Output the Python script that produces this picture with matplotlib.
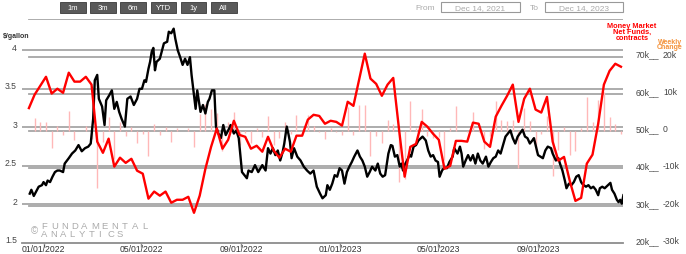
import numpy as np
import pandas as pd
import matplotlib
matplotlib.use("Agg")
import matplotlib.pyplot as plt
import matplotlib.dates as mdates
import matplotlib.transforms as mtransforms
from matplotlib.patches import Rectangle

plt.rcParams['font.family'] = ['Liberation Sans', 'DejaVu Sans']

#__ Data ______________________________________
# gasoline price ($/gallon), days counted from 2022-01-01
gas_day = [-17, -15, -12, -8, -6, -2, 0, 3, 5, 8,
           11, 14, 17, 20, 24, 26, 31, 35, 39, 43,
           47, 51, 55, 58, 61, 63, 66, 68, 72, 75,
           77, 81, 84, 87, 90, 93, 96, 100, 103, 107,
           111, 115, 118, 121, 124, 126, 129, 131, 133, 135,
           137, 139, 143, 148, 152, 154, 157, 160, 162, 165,
           168, 171, 174, 177, 180, 182, 184, 187, 189, 193,
           196, 199, 202, 204, 207, 210, 212, 215, 218, 221,
           224, 228, 230, 234, 237, 240, 244, 247, 250, 252,
           256, 260, 264, 269, 273, 276, 279, 282, 285, 288,
           291, 294, 296, 299, 301, 303, 305, 308, 312, 316,
           320, 324, 328, 332, 336, 340, 343, 347, 349, 352,
           355, 358, 361, 364, 367, 370, 373, 376, 379, 382,
           386, 389, 392, 395, 398, 401, 404, 408, 411, 414,
           417, 420, 424, 427, 429, 432, 435, 438, 440, 442,
           444, 447, 450, 452, 455, 458, 461, 464, 466, 470,
           473, 476, 479, 482, 485, 487, 490, 493, 496, 499,
           503, 505, 509, 512, 514, 516, 519, 522, 525, 528,
           531, 534, 537, 540, 544, 547, 550, 553, 556, 559,
           562, 565, 568, 571, 574, 577, 580, 583, 587, 589,
           592, 595, 598, 601, 603, 605, 608, 611, 614, 617,
           620, 624, 626, 630, 633, 635, 638, 641, 643, 646,
           649, 652, 655, 658, 661, 663, 667, 670, 673, 676,
           679, 682, 684, 687, 690, 693, 697, 699, 702, 705,
           707, 709, 711, 713]
gas_price = [2.14, 2.19, 2.11, 2.19, 2.23, 2.25, 2.29, 2.25, 2.31, 2.29,
             2.36, 2.42, 2.44, 2.44, 2.42, 2.53, 2.60, 2.66, 2.70, 2.77,
             2.69, 2.73, 2.75, 2.79, 3.11, 3.61, 3.68, 3.37, 3.27, 3.03,
             3.35, 3.42, 3.48, 3.24, 3.33, 3.20, 3.11, 3.01, 3.37, 3.40,
             3.29, 3.37, 3.50, 3.50, 3.61, 3.59, 3.76, 3.85, 3.98, 4.03,
             3.74, 3.85, 3.89, 4.09, 4.11, 4.24, 4.22, 4.28, 4.15, 4.00,
             3.91, 3.81, 3.89, 3.81, 3.91, 3.68, 3.50, 3.24, 3.48, 3.20,
             3.29, 3.18, 3.33, 3.37, 3.48, 3.48, 3.01, 2.92, 2.86, 3.03,
             2.90, 2.98, 3.03, 2.92, 2.96, 2.86, 2.42, 2.38, 2.34, 2.44,
             2.42, 2.51, 2.42, 2.51, 2.44, 2.73, 2.66, 2.73, 2.64, 2.70,
             2.57, 2.68, 2.79, 3.01, 2.92, 2.81, 2.60, 2.73, 2.62, 2.57,
             2.49, 2.44, 2.40, 2.44, 2.23, 2.14, 2.08, 2.12, 2.25, 2.19,
             2.27, 2.38, 2.36, 2.47, 2.44, 2.27, 2.42, 2.49, 2.55, 2.62,
             2.70, 2.62, 2.57, 2.49, 2.36, 2.42, 2.49, 2.44, 2.53, 2.40,
             2.36, 2.38, 2.66, 2.77, 2.76, 2.62, 2.64, 2.49, 2.53, 2.44,
             2.51, 2.57, 2.64, 2.62, 2.75, 2.77, 2.83, 2.86, 2.88, 2.83,
             2.70, 2.62, 2.64, 2.57, 2.55, 2.36, 2.44, 2.48, 2.47, 2.55,
             2.62, 2.73, 2.66, 2.75, 2.66, 2.49, 2.57, 2.64, 2.57, 2.64,
             2.53, 2.66, 2.57, 2.53, 2.62, 2.49, 2.55, 2.60, 2.62, 2.70,
             2.66, 2.77, 2.88, 2.92, 2.96, 2.86, 2.79, 2.88, 2.94, 2.97,
             2.88, 2.86, 2.79, 2.83, 2.86, 2.77, 2.64, 2.62, 2.60, 2.70,
             2.75, 2.73, 2.66, 2.57, 2.60, 2.53, 2.44, 2.31, 2.21, 2.27,
             2.25, 2.29, 2.36, 2.38, 2.29, 2.26, 2.23, 2.25, 2.21, 2.23,
             2.19, 2.12, 2.21, 2.23, 2.21, 2.24, 2.28, 2.19, 2.14, 2.06,
             2.03, 2.06, 2.01, 2.12]

# money market net funds (k contracts), weekly from 2021-12-14
net_funds = [56.2, 59.8, 62.2, 64.6, 60.1, 61.4, 60.3, 65.7, 63.3, 63.3,
             64.6, 62.5, 47.2, 44.2, 48.0, 40.5, 42.9, 41.5, 42.6, 39.4,
             38.6, 31.9, 33.8, 32.7, 33.8, 30.8, 31.6, 31.6, 32.4, 28.1,
             32.7, 39.9, 45.8, 50.7, 45.3, 47.7, 52.8, 49.0, 48.5, 45.3,
             46.1, 44.5, 48.5, 44.8, 42.9, 45.3, 44.5, 48.8, 48.8, 53.1,
             54.4, 54.1, 52.0, 52.8, 52.5, 51.5, 57.9, 56.8, 63.8, 70.8,
             64.1, 62.7, 59.5, 62.5, 64.3, 50.7, 37.8, 45.8, 46.6, 52.5,
             51.2, 49.3, 47.7, 39.9, 40.7, 47.4, 47.4, 47.2, 52.3, 52.0,
             47.2, 45.8, 53.9, 56.8, 59.5, 62.5, 52.5, 58.7, 61.4, 55.8,
             55.0, 59.2, 47.2, 42.1, 43.1, 36.7, 31.3, 32.1, 41.3, 43.7,
             52.0, 62.5, 66.2, 68.1, 67.3]
# weekly change (k contracts), from 2021-12-21
weekly_change = [3.6, 2.4, 2.4, -4.5, 1.3, -1.1, 5.4, -2.4, 0.0, 1.3,
                 -2.1, -15.3, -3.0, 3.8, -7.5, 2.4, -1.4, 1.1, -3.2, -0.8,
                 -6.7, 1.9, -1.1, 1.1, -3.0, 0.8, 0.0, 0.8, -4.3, 4.6,
                 7.2, 5.9, 4.9, -5.4, 2.4, 5.1, -3.8, -0.5, -3.2, 0.8,
                 -1.6, 4.0, -3.7, -1.9, 2.4, -0.8, 4.3, 0.0, 4.3, 1.3,
                 -0.3, -2.1, 0.8, -0.3, -1.0, 6.4, -1.1, 7.0, 7.0, -6.7,
                 -1.4, -3.2, 3.0, 1.8, -13.6, -12.9, 8.0, 0.8, 5.9, -1.3,
                 -1.9, -1.6, -7.8, 0.8, 6.7, 0.0, -0.2, 5.1, -0.3, -4.8,
                 -1.4, 8.1, 2.9, 2.7, 3.0, -10.0, 6.2, 2.7, -5.6, -0.8,
                 4.2, -12.0, -5.1, 1.0, -6.4, -5.4, 0.8, 9.2, 2.4, 8.3,
                 10.5, 3.7, 1.9, -0.8]

left_ticks = [1.5, 2, 2.5, 3, 3.5, 4]
right_ticks = [20, 30, 40, 50, 60, 70]
change_ticks = [-30, -20, -10, 0, 10, 20]
x_tick_dates = ['2022-01-01', '2022-05-01', '2022-09-01',
                '2023-01-01', '2023-05-01', '2023-09-01']
buttons = ['1m', '3m', '6m', 'YTD', '1y', 'All']
date_from, date_to = 'Dec 14, 2021', 'Dec 14, 2023'

gas_dates = pd.Timestamp('2022-01-01') + pd.to_timedelta(gas_day, unit='D')
fund_dates = pd.date_range('2021-12-14', periods=len(net_funds), freq='7D')
change_dates = fund_dates[1:]

#__ Figure ____________________________________
W, H = 686, 255
fig = plt.figure(figsize=(W/100, H/100), dpi=100)
fig.patch.set_facecolor('white')

ax = fig.add_axes([22/W, 1-244/H, 601/W, 223.6/H])
ax3 = ax.twinx()   # weekly change bars + grid
ax2 = ax.twinx()   # net funds
ax3.set_zorder(1); ax.set_zorder(2); ax2.set_zorder(3)
for a in (ax, ax2, ax3):
    a.patch.set_visible(False)
    for s in a.spines.values():
        s.set_visible(False)
    a.set_yticks([])

xmin, xmax = pd.Timestamp('2021-12-05 12:00'), pd.Timestamp('2023-12-14 12:00')
for a in (ax, ax2, ax3):
    a.set_xlim(xmin, xmax)
ax.set_ylim(1.5, 4.4)
ax2.set_ylim(20, 80)
ax3.set_ylim(-30, 30)

grid_c = '#a6a6a6'
# left-axis grid
blend_l = mtransforms.blended_transform_factory(ax3.transAxes, ax.transData)
for v in left_ticks[1:]:
    ax3.plot([0, 1], [v, v], color=grid_c, lw=1.3, transform=blend_l, zorder=0)
# right-axis grid
for v in right_ticks[1:] + [80]:
    ax3.plot([fund_dates[0], xmax], [v, v], color=grid_c, lw=1.3,
             transform=ax2.transData, zorder=0)

ax3.vlines(change_dates, 0, weekly_change, color='#ffb8b8', lw=1.0, zorder=1)
ax.plot(gas_dates, gas_price, color='black', lw=1.7)
ax2.plot(fund_dates, net_funds, color='#ff0000', lw=1.7)

# bottom axis
ax.spines['bottom'].set_visible(True)
ax.spines['bottom'].set_color('#8c8c8c')
ax.spines['bottom'].set_linewidth(1.3)
ax.set_xticks(pd.to_datetime(x_tick_dates))
ax.xaxis.set_major_formatter(mdates.DateFormatter('%m/%d/%Y'))
ax.tick_params(axis='x', length=3, width=1, color='#8c8c8c',
               labelsize=6.2, labelcolor='#333333', pad=-2.2)
for a in (ax2, ax3):
    a.tick_params(axis='x', bottom=False, labelbottom=False)

# y labels
tl = mtransforms.offset_copy(ax.get_yaxis_transform(), fig=fig, x=-5, y=3, units='dots')
for v in left_ticks:
    ax.text(0, v, f'{v:g}', transform=tl, ha='right', va='center',
            fontsize=6.2, color='#444444')
tr1 = mtransforms.offset_copy(ax2.get_yaxis_transform(), fig=fig, x=13, y=2.5, units='dots')
tr2 = mtransforms.offset_copy(ax2.get_yaxis_transform(), fig=fig, x=40, y=2.5, units='dots')
for v, c in zip(right_ticks, change_ticks):
    ax2.text(1, v, f'{v}k__', transform=tr1, ha='left', va='center',
             fontsize=6.2, color='#444444')
    ax2.text(1, v, '0' if c == 0 else f'{c}k', transform=tr2, ha='left',
             va='center', fontsize=6.2, color='#444444')

def px(x, y):
    return x / W, 1 - y / H

fig.text(*px(3, 37), '$/gallon', fontsize=5, fontweight='bold',
         color='#333333', ha='left', va='center')
fig.text(*px(632, 22.5), 'Money Market\nNet Funds,\ncontracts', fontsize=5.3,
         fontweight='bold', color='#ff0000', ha='center', va='top', linespacing=0.85)
fig.text(*px(670, 38.5), 'Weekly\nChange', fontsize=5, fontweight='bold',
         color='#f4923a', ha='center', va='top', linespacing=0.78)

# range buttons
for i, b in enumerate(buttons):
    x0 = 60 + i * 30.2
    fig.patches.append(Rectangle(px(x0, 13.5), 25.5/W, 10.5/H, transform=fig.transFigure,
                                 facecolor='#5a5a5a', edgecolor='#3a3a3a', lw=0.6))
    fig.text(*px(x0 + 12.75, 8.3), b, fontsize=5.5, color='white',
             ha='center', va='center')

# date range boxes
fig.text(*px(425, 8), 'From', fontsize=6, color='#aaaaaa', ha='center', va='center')
fig.text(*px(534, 8), 'To', fontsize=6, color='#aaaaaa', ha='center', va='center')
for x0, x1, s in [(441, 520, date_from), (545, 623, date_to)]:
    fig.patches.append(Rectangle(px(x0, 13.3), (x1 - x0)/W, 10.5/H, transform=fig.transFigure,
                                 facecolor='white', edgecolor='#999999', lw=0.8))
    fig.text(*px((x0 + x1) / 2, 8.2), s, fontsize=6, color='#aaaaaa',
             ha='center', va='center')

# watermark, letters spread wide
wm_c = '#ababab'
fig.text(*px(31, 231), '©', fontsize=7, color=wm_c, ha='left', va='center')
for i, ch in enumerate('FUNDAMENTAL'):
    fig.text(*px(41 + i * 10.1, 226.5), ch, fontsize=6.8, color=wm_c,
             ha='left', va='center')
for i, ch in enumerate('ANALYTICS'):
    fig.text(*px(41 + i * 9.5, 234.5), ch, fontsize=6.8, color=wm_c,
             ha='left', va='center')

fig.savefig('out.png', dpi=100, facecolor='white')
